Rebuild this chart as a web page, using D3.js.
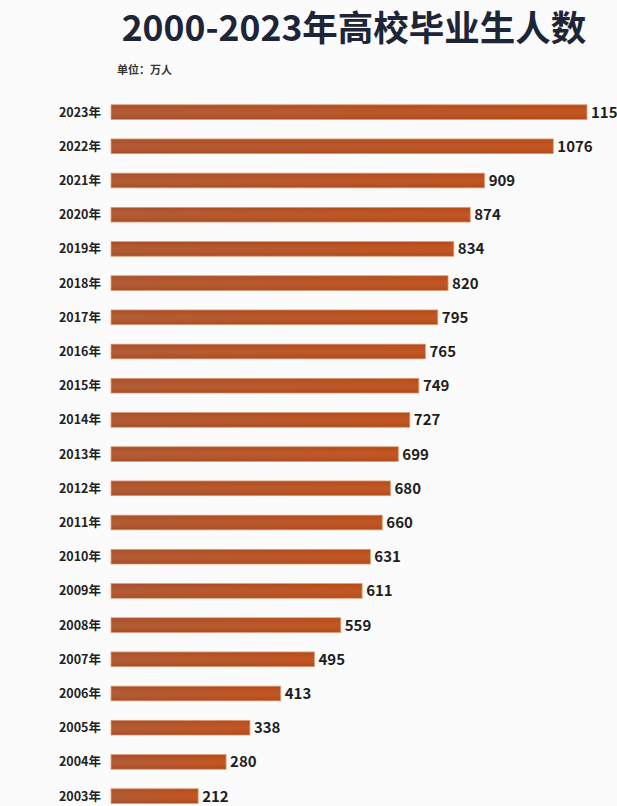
<!DOCTYPE html>
<html><head><meta charset="utf-8">
<script src="https://cdn.jsdelivr.net/npm/d3@7"></script>
<style>
html,body{margin:0;padding:0;background:#fbfbfb;overflow:hidden;}
svg{display:block;}
</style></head>
<body>
<script>
const years = ["2023年","2022年","2021年","2020年","2019年","2018年","2017年","2016年","2015年","2014年","2013年","2012年","2011年","2010年","2009年","2008年","2007年","2006年","2005年","2004年","2003年"];
const values = [1158,1076,909,874,834,820,795,765,749,727,699,680,660,631,611,559,495,413,338,280,212];
const titleText = "2000-2023年高校毕业生人数";
const unitText = "单位：万人";

const W = 617, H = 806;
const svg = d3.select("body").append("svg").attr("width", W).attr("height", H);
svg.append("rect").attr("width", W).attr("height", H).attr("fill", "#fbfbfb");

const defs = svg.append("defs");
const g = defs.append("linearGradient").attr("id","barGrad").attr("x1","0").attr("x2","1").attr("y1","0").attr("y2","0");
g.append("stop").attr("offset","0%").attr("stop-color","#b0552d");
g.append("stop").attr("offset","100%").attr("stop-color","#c04f1a");
const gv = defs.append("linearGradient").attr("id","barShade").attr("x1","0").attr("x2","0").attr("y1","0").attr("y2","1");
gv.append("stop").attr("offset","0%").attr("stop-color","#000").attr("stop-opacity",0.06);
gv.append("stop").attr("offset","50%").attr("stop-color","#fff").attr("stop-opacity",0.04);
gv.append("stop").attr("offset","100%").attr("stop-color","#000").attr("stop-opacity",0.08);

const font = "'Noto Sans CJK SC','Noto Sans',sans-serif";

svg.append("text").attr("x", 354).attr("y", 41).attr("text-anchor","middle")
  .attr("font-family", font).attr("font-weight", 700).attr("font-size", 35.5)
  .attr("fill", "#1d2536").text(titleText);

svg.append("text").attr("x", 117).attr("y", 74)
  .attr("font-family", font).attr("font-weight", 700).attr("font-size", 11)
  .attr("fill", "#333").text(unitText);

const x = d3.scaleLinear().domain([0, 1158]).range([111, 587]);
const y = d3.scaleBand().domain(years).range([95, 95 + 21*34.2]).paddingInner(0.57).paddingOuter(0.285);

const data = years.map((yr,i)=>({yr, v: values[i]}));

const rows = svg.append("g").selectAll("g").data(data).join("g");
rows.append("rect").attr("x", x(0)).attr("y", d=>y(d.yr)).attr("width", d=>x(d.v)-x(0)).attr("height", y.bandwidth())
  .attr("fill","url(#barGrad)").attr("stroke","#e9a27a").attr("stroke-width",0.8);
rows.append("rect").attr("x", x(0)).attr("y", d=>y(d.yr)).attr("width", d=>x(d.v)-x(0)).attr("height", y.bandwidth())
  .attr("fill","url(#barShade)");

rows.append("text").attr("x", 101).attr("y", d=>y(d.yr)+y.bandwidth()/2).attr("dy","0.36em")
  .attr("text-anchor","end").attr("font-family", font).attr("font-weight",700).attr("font-size",12.5)
  .attr("fill","#222").text(d=>d.yr);

rows.append("text").attr("x", d=>x(d.v)+4).attr("y", d=>y(d.yr)+y.bandwidth()/2).attr("dy","0.36em")
  .attr("font-family", font).attr("font-weight",700).attr("font-size",15)
  .attr("fill","#1e1e1e").text(d=>d.v);
</script>
</body></html>
